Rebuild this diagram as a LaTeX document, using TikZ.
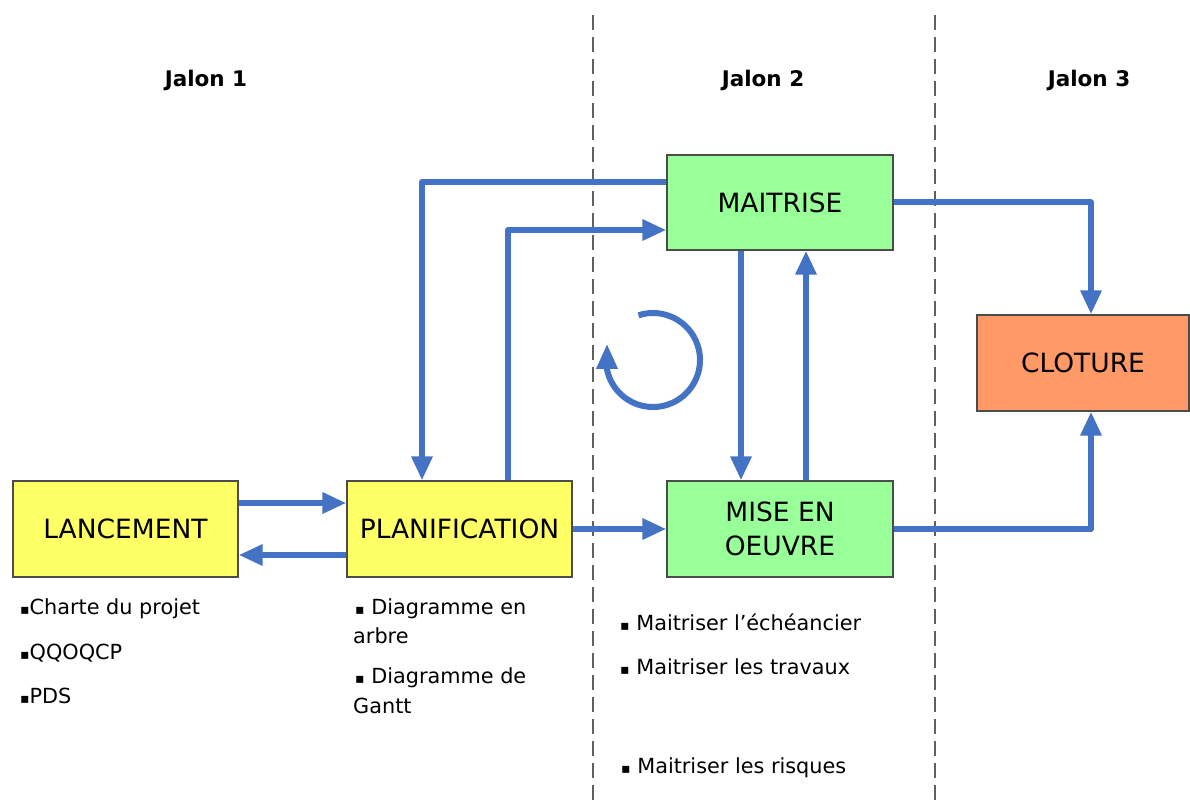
\documentclass[tikz,border=0pt]{standalone}
\usepackage{fontspec}
\setmainfont{DejaVu Sans}
\usetikzlibrary{arrows.meta}
\definecolor{cyellow}{HTML}{FFFF66}
\definecolor{cgreen}{HTML}{99FF99}
\definecolor{corange}{HTML}{FF9966}
\definecolor{cblue}{HTML}{4472C4}
\definecolor{cgray}{HTML}{606060}
\newcommand{\bul}{{\fontsize{14}{14}\selectfont ▪}}
\begin{document}
\begin{tikzpicture}[x=1pt,y=1pt,
  box/.style={draw=black!70,line width=1.2pt,minimum width=225pt,minimum height=96pt,
    inner sep=0pt,align=center,font=\fontsize{26.5}{34}\selectfont},
  arr/.style={draw=cblue,line width=6pt,line join=round,-{Triangle[length=24pt,width=20pt]}},
  sep/.style={draw=cgray,line width=2.6pt,dash pattern=on 15pt off 7pt},
  jal/.style={font=\fontsize{21.5}{24}\selectfont\bfseries,anchor=base},
  txt/.style={font=\fontsize{20.8}{24}\selectfont,anchor=base west,inner sep=0pt}]
\useasboundingbox (0,0) rectangle (1190,-802);
% separators
\coordinate (s1t) at (593,-15); \coordinate (s1b) at (593,-802);
\coordinate (s2t) at (935,-15); \coordinate (s2b) at (935,-802);
\draw[sep] (s1t) -- (s1b);
\draw[sep] (s2t) -- (s2b);
% jalons
\node[jal] (j1) at (206,-87) {Jalon 1};
\node[jal] (j2) at (763,-87) {Jalon 2};
\node[jal] (j3) at (1089,-87) {Jalon 3};
% boxes
\node[box,fill=cyellow] (lan) at (125.5,-529) {LANCEMENT};
\node[box,fill=cyellow] (plan) at (459.5,-529) {PLANIFICATION};
\node[box,fill=cgreen,minimum width=226pt] (mise) at (780,-529) {MISE EN\\OEUVRE};
\node[box,fill=cgreen,minimum width=226pt,minimum height=95pt] (mai) at (780,-202.5) {MAITRISE};
\node[box,fill=corange,minimum width=212pt] (clo) at (1083,-363) {CLOTURE};
% connectors
\draw[arr] ([yshift=26pt]lan.east) -- ([yshift=26pt]plan.west);
\draw[arr] ([yshift=-26pt]plan.west) -- ([yshift=-26pt]lan.east);
\draw[arr] (plan.east) -- (mise.west);
\draw[arr] ([yshift=20.5pt]mai.west) -| ([xshift=-37.5pt]plan.north);
\draw[arr] ([xshift=48.5pt]plan.north) |- ([yshift=-27.5pt]mai.west);
\draw[arr] ([xshift=-39pt]mai.south) -- ([xshift=-39pt]mise.north);
\draw[arr] ([xshift=26pt]mise.north) -- ([xshift=26pt]mai.south);
\draw[arr] (mai.east) -| ([xshift=8pt]clo.north);
\draw[arr] (mise.east) -| ([xshift=8pt]clo.south);
% cycle arrow
\coordinate (cyc) at (653,-360);
\draw[arr,-{Triangle[length=25pt,width=20pt]}] ([shift={(108:47pt)}]cyc) arc[start angle=108,end angle=-168,radius=47pt] -- ++(0,26);
% lists
\node[txt] (l1) at (20,-614) {\bul Charte du projet};
\node[txt] (l2) at (20,-659) {\bul QQOQCP};
\node[txt] (l3) at (20,-703) {\bul PDS};
\node[txt] (p1) at (355,-614) {\bul\ Diagramme en};
\node[txt] (p2) at (353,-643) {arbre};
\node[txt] (p3) at (355,-683) {\bul\ Diagramme de};
\node[txt] (p4) at (353,-713) {Gantt};
\node[txt] (m1) at (620,-630) {\bul\ Maitriser l’échéancier};
\node[txt] (m2) at (620,-674) {\bul\ Maitriser les travaux};
\node[txt] (m3) at (621,-773) {\bul\ Maitriser les risques};
\end{tikzpicture}
\end{document}
